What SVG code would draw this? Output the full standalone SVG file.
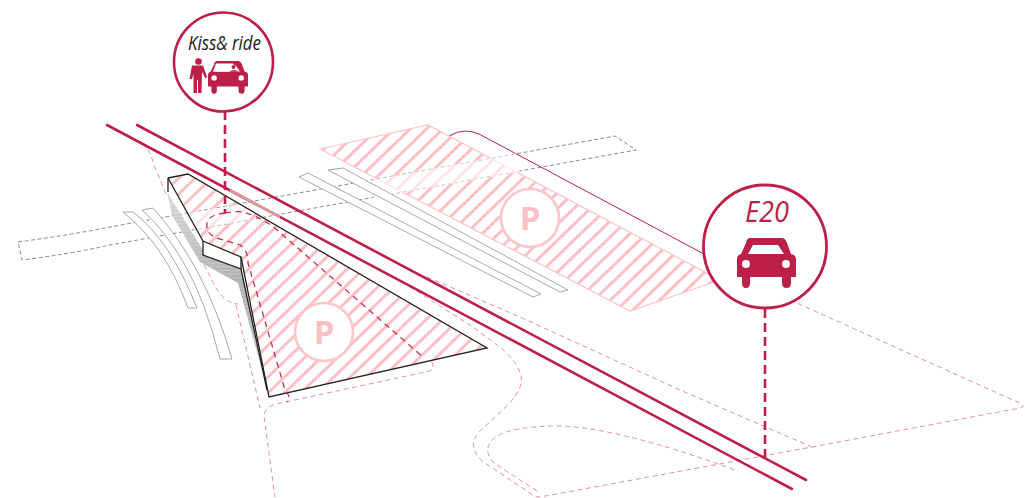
<svg xmlns="http://www.w3.org/2000/svg" xmlns:xlink="http://www.w3.org/1999/xlink" width="1029" height="498" viewBox="0 0 1029 498">
<style>
.road{fill:none;stroke:#bc1f47;stroke-width:2.6;stroke-linecap:round}
.lead{fill:none;stroke:#bc1f47;stroke-width:2.6;stroke-dasharray:9 5}
.pd{fill:none;stroke:#e57f9b;stroke-width:.9;stroke-dasharray:5 3.5}
.cd{fill:none;stroke:#c43058;stroke-width:1.3;stroke-dasharray:6 4.5}
.band{fill:none;stroke:#8a8a8a;stroke-width:1;stroke-dasharray:4 2.5}
.strip{fill:#fff;stroke:#a8a8a8;stroke-width:1}
.blk{fill:none;stroke:#222;stroke-width:1.3;stroke-linejoin:miter}
.pc{fill:#fff;stroke:#fcc5c8;stroke-width:2.6}
.pt{font-family:"Open Sans","Noto Sans",sans-serif;font-weight:700;font-size:33px;fill:#fbbfc4;text-anchor:middle}
.ring{fill:#fff;stroke:#bc1f47}
.red{fill:#bc1f47}
</style>
<defs>
<pattern id="hatch" width="11.4" height="20" patternUnits="userSpaceOnUse" patternTransform="rotate(46)">
<rect x="0" y="0" width="3" height="20" fill="#fbbfc4"/>
</pattern>
<pattern id="rib" width="10" height="3.6" patternUnits="userSpaceOnUse">
<rect width="10" height=".7" fill="#fff" fill-opacity=".3"/>
</pattern>
<linearGradient id="shade" x1="0" y1="0" x2="0" y2="1">
<stop offset="0" stop-color="#d9d9d9"/><stop offset=".45" stop-color="#b0b0b0"/><stop offset=".8" stop-color="#bdbdbd"/><stop offset="1" stop-color="#ededed"/>
</linearGradient>
<g id="car">
<path d="M750 238H782Q785 238 787 243L791 254Q796 255 796 259V277H791V283Q791 288 786.500 288Q782 288 782 283V277H750V283Q750 288 746 288Q742 288 742 283V277H737V259Q737 255 741 254L746 243Q747 238 750 238Z" fill="#bc1f47"/>
<path d="M753 245H778L784 254H748Z" fill="#fff"/>
<circle cx="746" cy="264" r="4" fill="#fff"/>
<circle cx="786" cy="264" r="4" fill="#fff"/>
</g>
</defs>

<g id="connectors">
<path class="band" d="M18 242Q70 235 110 227L615 136L636 150L110 245Q70 254 22 260Z"/>
<path d="M449 136Q458 131 465 131Q472 131 479 134L704 254" fill="none" stroke="#bc1f47" stroke-width="1"/>
<path class="pd" d="M790 300L1022 404Q1025 407 1020 408L812 447L540 497Q534 497 530 493L482 461Q466 445 480 431L508 405Q526 385 520 373Q515 358 497 345L473 327L407 285"/>
<path class="pd" d="M427 277L520 317L680 390L812 447"/>
<path class="pd" d="M537 491L494 463Q480 448 497 436Q515 426 560 426Q620 428 735 470"/>
<path class="pd" d="M143 143Q150 150 154 165L166 194"/>
<path class="pd" d="M196 250L212 280Q222 303 238 304"/>
<path class="pd" d="M236 305L260 408"/>
<path class="pd" d="M432 362Q435 369 430 371L276 404Q265 407 264 416L275 497"/>
</g>

<g id="parking-upper">
<polygon points="320,149 428,125 720,280 630,311" fill="url(#hatch)" stroke="#fcc5c8" stroke-width="1.2"/>
<polygon points="365,181 516,153 520,172 372,198" fill="#fff" fill-opacity=".6"/>
<circle class="pc" cx="530" cy="218" r="29"/>
<text class="pt" x="530" y="230">P</text>
</g>

<g id="platforms-upper">
<polygon class="strip" points="299,177 308,173 541,294 533,297"/>
<polygon class="strip" points="328,170 343,168 568,290 560,292"/>
</g>

<g id="platforms-left">
<path class="strip" d="M123 212H133Q170 240 197 308H188Q165 245 123 212Z"/>
<path class="strip" d="M142 210L153 208Q205 265 232 359H220Q205 300 185 265Q165 230 142 210Z"/>
</g>

<g id="parking-lower">
<polygon points="188,174 487,348 269,397 241,257 203,241 168,178" fill="url(#hatch)"/>
<polygon points="183,214 245,203 250,220 195,230" fill="#fff" fill-opacity=".6"/>
<circle class="pc" cx="324" cy="332" r="29"/>
<text class="pt" x="324" y="344">P</text>
</g>

<g id="building">
<polygon points="167,192 203,250 203,255 241,269 267,392 260,363 238,283 200,262 172,215" fill="url(#shade)"/>
<polygon points="167,192 203,250 203,255 241,269 267,392 260,363 238,283 200,262 172,215" fill="url(#rib)"/>
<path class="blk" d="M168 178L188 174L487 348L269 397L241 257L203 241L168 178"/>
<path class="blk" d="M168 178V192"/>
<path class="blk" d="M203 241V255L241 269L267 390"/>
<path class="blk" d="M241 257V269"/>
</g>

<g id="connectors-top">
<path class="cd" d="M225 213Q235 211 243 212Q262 217 277 230L423 357"/>
<path class="cd" d="M225 213Q205 215 207 227Q208 236 220 239L240 245Q248 250 248 263L285 390Q292 398 287 402"/>
<path class="road" d="M107 125L792 489"/>
<path class="road" d="M137 125L806 480"/>
<path d="M230 190L280 217" fill="none" stroke="#dc9a9a" stroke-width="2.6"/>
<path class="lead" d="M225 111V213"/>
<path class="lead" d="M765 309V458"/>
</g>

<g id="node-kiss-ride">
<circle class="ring" cx="223.500" cy="62" r="49.500" stroke-width="2.6"/>
<text x="188" y="50" font-family="'Open Sans','Noto Sans',sans-serif" font-style="italic" font-size="20" fill="#1a1a1a" textLength="73" lengthAdjust="spacingAndGlyphs">Kiss&amp; ride</text>
<circle class="red" cx="198.500" cy="61.500" r="3.300"/>
<path class="red" d="M192 65.500H203L207 77L205.500 78.500L202 71.500L201.500 93H198V80H197V93H193.500V74L192 79H189.500Z"/>
<use xlink:href="#car" href="#car" transform="translate(208 61) scale(.678 .653) translate(-737 -238)"/>
<path d="M216 63.500H233L239 71.700H213Z" fill="#fff"/>
<circle class="red" cx="233.500" cy="67" r="2"/>
<path class="red" d="M229 71.700Q234 68.500 239 71.700Z"/>
</g>

<g id="node-e20">
<circle class="ring" cx="765" cy="246.500" r="61.500" stroke-width="2.800"/>
<text x="767" y="222" font-family="'Open Sans','Noto Sans',sans-serif" font-style="italic" font-size="30" fill="#bc1f47" text-anchor="middle" textLength="44" lengthAdjust="spacingAndGlyphs">E20</text>
<use xlink:href="#car" href="#car"/>
</g>
</svg>
